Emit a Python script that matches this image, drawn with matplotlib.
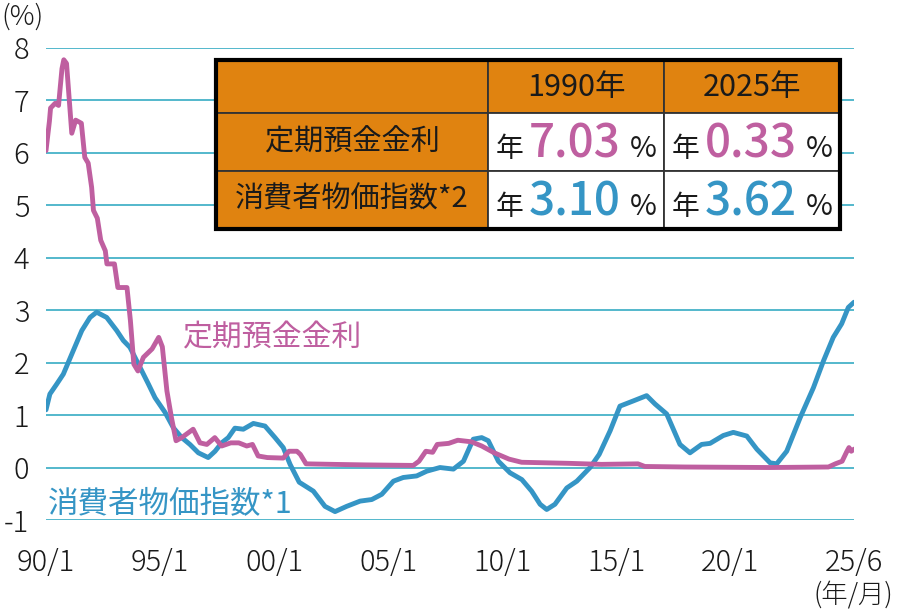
import matplotlib
matplotlib.use("Agg")
import matplotlib.pyplot as plt
from matplotlib.patches import Rectangle

plt.rcParams['font.family'] = ['Noto Sans CJK JP', 'DejaVu Sans']

# 定期預金金利 (decimal year, %)
rate_t = [1990.00, 1990.15, 1990.20, 1990.40, 1990.55, 1990.70, 1990.78, 1990.90,
          1991.13, 1991.30, 1991.55, 1991.70, 1991.85, 1992.00, 1992.08, 1992.25,
          1992.40, 1992.60, 1992.67, 1993.00, 1993.15, 1993.55, 1993.70, 1993.85,
          1994.03, 1994.27, 1994.65, 1994.94, 1995.10, 1995.30, 1995.50, 1995.70,
          1995.95, 1996.45, 1996.75, 1997.05, 1997.40, 1997.70, 1998.10, 1998.45,
          1998.80, 1999.05, 1999.30, 1999.70, 2000.40, 2000.65, 2001.00, 2001.15,
          2001.40, 2002.60, 2004.00, 2006.10, 2006.35, 2006.65, 2006.95, 2007.15,
          2007.65, 2008.05, 2008.65, 2009.10, 2009.65, 2010.30, 2010.85, 2012.90,
          2014.35, 2015.95, 2016.25, 2018.00, 2021.70, 2024.30, 2024.60, 2024.90,
          2025.10, 2025.20, 2025.30, 2025.42]
rate_v = [6.04, 6.60, 6.85, 6.94, 6.90, 7.60, 7.77, 7.70,
          6.37, 6.62, 6.56, 5.91, 5.80, 5.34, 4.90, 4.75,
          4.33, 4.13, 3.88, 3.88, 3.43, 3.43, 2.80, 1.97,
          1.84, 2.10, 2.26, 2.48, 2.30, 1.46, 0.95, 0.51,
          0.57, 0.73, 0.47, 0.44, 0.57, 0.41, 0.47, 0.47,
          0.41, 0.44, 0.22, 0.19, 0.18, 0.31, 0.31, 0.25,
          0.07, 0.06, 0.05, 0.04, 0.12, 0.31, 0.29, 0.44,
          0.46, 0.52, 0.49, 0.41, 0.28, 0.16, 0.10, 0.08,
          0.06, 0.07, 0.02, 0.01, 0.00, 0.01, 0.07, 0.12,
          0.30, 0.38, 0.31, 0.35]

# 消費者物価指数 (decimal year, %)
cpi_t = [1990.00, 1990.17, 1990.47, 1990.76, 1991.13, 1991.57, 1991.93, 1992.22,
         1992.66, 1993.10, 1993.39, 1993.68, 1994.12, 1994.49, 1994.78, 1995.22,
         1995.58, 1995.95, 1996.31, 1996.68, 1997.11, 1997.41, 1997.70, 1997.99,
         1998.28, 1998.65, 1999.09, 1999.60, 2000.04, 2000.40, 2000.70, 2001.10,
         2001.72, 2002.23, 2002.67, 2003.18, 2003.77, 2004.28, 2004.72, 2005.23,
         2005.66, 2006.25, 2006.69, 2007.27, 2007.86, 2008.30, 2008.73, 2009.10,
         2009.39, 2009.83, 2010.34, 2010.86, 2011.29, 2011.66, 2011.95, 2012.31,
         2012.83, 2013.27, 2013.85, 2014.25, 2014.73, 2015.16, 2015.75, 2016.33,
         2016.70, 2017.21, 2017.79, 2018.23, 2018.74, 2019.11, 2019.69, 2020.13,
         2020.72, 2021.16, 2021.74, 2022.03, 2022.47, 2023.06, 2023.64, 2024.08,
         2024.51, 2024.88, 2025.17, 2025.42]
cpi_v = [1.10, 1.40, 1.59, 1.78, 2.16, 2.61, 2.86, 2.96,
         2.86, 2.61, 2.42, 2.29, 1.91, 1.59, 1.33, 1.05,
         0.76, 0.57, 0.44, 0.28, 0.19, 0.31, 0.47, 0.57,
         0.75, 0.73, 0.84, 0.79, 0.57, 0.38, 0.06, -0.28,
         -0.45, -0.74, -0.84, -0.74, -0.64, -0.61, -0.51, -0.26,
         -0.19, -0.16, -0.07, 0.00, -0.03, 0.12, 0.54, 0.57,
         0.51, 0.12, -0.10, -0.23, -0.45, -0.70, -0.80, -0.70,
         -0.39, -0.26, 0.00, 0.25, 0.70, 1.17, 1.27, 1.37,
         1.21, 1.02, 0.44, 0.28, 0.44, 0.46, 0.61, 0.67,
         0.60, 0.35, 0.09, 0.07, 0.31, 0.95, 1.52, 2.03,
         2.48, 2.74, 3.05, 3.15]

x_ticks = [1990, 1995, 2000, 2005, 2010, 2015, 2020, 2025.42]
x_labels = ["90/1", "95/1", "00/1", "05/1", "10/1", "15/1", "20/1", "25/6"]
y_ticks = list(range(-1, 9))

col_head = ["1990年", "2025年"]
row_head = ["定期預金金利", "消費者物価指数*2"]
table_vals = [["7.03", "0.33"], ["3.10", "3.62"]]

PINK = "#BF5FA0"
BLUE = "#3595C5"
ORANGE = "#E08310"
GRID = "#45B2C8"

fig = plt.figure(figsize=(9, 6.09), dpi=100)
W, H = 900, 609
ax = fig.add_axes([46 / W, 1 - 520 / H, 808 / W, (520 - 47.7) / H])

for y in y_ticks:
    ax.axhline(y, color=GRID, lw=1.3, zorder=1)

ax.plot(cpi_t, cpi_v, color=BLUE, lw=3.5, solid_capstyle="round", solid_joinstyle="round", zorder=3)
ax.plot(rate_t, rate_v, color=PINK, lw=3.5, solid_capstyle="round", solid_joinstyle="round", zorder=4)

ax.set_xlim(1990, 2025.42)
ax.set_ylim(-1, 8)
ax.set_xticks(x_ticks)
ax.set_xticklabels(x_labels)
ax.set_yticks(y_ticks)
ax.set_yticklabels([str(v) for v in y_ticks])
ax.tick_params(length=0, labelsize=21, colors="#1a1a1a")
ax.tick_params(axis="x", pad=20)
ax.tick_params(axis="y", pad=12)
for lab in ax.get_xticklabels() + ax.get_yticklabels():
    lab.set_fontweight("light")
for s in ax.spines.values():
    s.set_visible(False)

ax.text(1996.0, 2.47, "定期預金金利", color=PINK, fontsize=21.5, va="center", ha="left")
ax.text(1990.1, -0.68, "消費者物価指数*1", color=BLUE, fontsize=22, va="center", ha="left")

# overlay in pixel coords for table and extra labels
ov = fig.add_axes([0, 0, 1, 1], zorder=10)
ov.set_xlim(0, W)
ov.set_ylim(H, 0)
ov.axis("off")

ov.text(22, 17, "(%)", fontsize=20, ha="center", va="center", fontweight="light", color="#1a1a1a")
ov.text(853, 594, "(年/月)", fontsize=19, ha="center", va="center", fontweight="light", color="#1a1a1a")

xs = [216, 488, 664, 840]
ys = [60, 113, 171, 229]
for r in range(3):
    for c in range(3):
        fc = ORANGE if (r == 0 or c == 0) else "white"
        ov.add_patch(Rectangle((xs[c], ys[r]), xs[c + 1] - xs[c], ys[r + 1] - ys[r],
                               facecolor=fc, edgecolor="#333333", lw=1.3))
ov.add_patch(Rectangle((xs[0], ys[0]), xs[3] - xs[0], ys[3] - ys[0],
                       facecolor="none", edgecolor="black", lw=3))

for c in range(2):
    ov.text((xs[c + 1] + xs[c + 2]) / 2, 87, col_head[c], fontsize=22, ha="center",
            va="center", color="#1a1a1a")
for r in range(2):
    ov.text((xs[0] + xs[1]) / 2, (ys[r + 1] + ys[r + 2]) / 2, row_head[r], fontsize=21,
            ha="center", va="center", color="#1a1a1a")

base_y = [157, 215]
val_col = [PINK, BLUE]
for r in range(2):
    for c in range(2):
        x0 = xs[c + 1]
        ov.text(x0 + 8, base_y[r], "年", fontsize=20, ha="left", va="baseline", color="#1a1a1a")
        ov.text(x0 + 41, base_y[r], table_vals[r][c], fontsize=33, fontweight="medium",
                ha="left", va="baseline", color=val_col[r])
        ov.text(x0 + 142, base_y[r], "%", fontsize=21, ha="left", va="baseline", color="#1a1a1a")

fig.savefig("out.png", dpi=100)
